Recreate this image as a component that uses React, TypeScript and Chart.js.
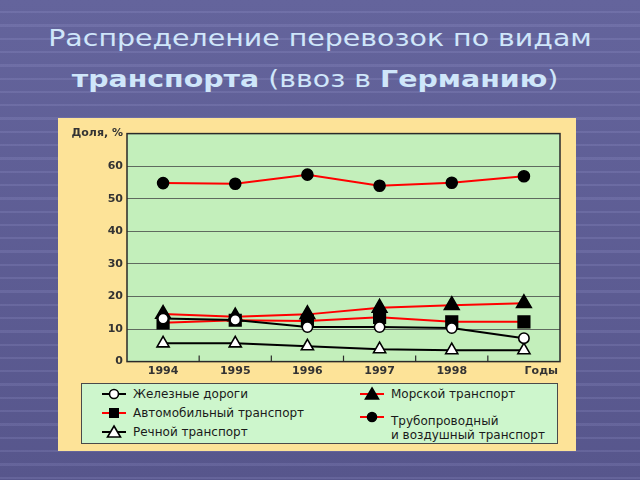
import React, { useEffect, useRef } from 'react';
import { Chart, registerables } from 'chart.js';

Chart.register(...registerables);

// ---- data ----
const years = ['1994', '1995', '1996', '1997', '1998', ''];
const xAxisName = 'Годы';
const yAxisName = 'Доля, %';
const yTickValues = [0, 10, 20, 30, 40, 50, 60, 70];

const railwayLabel = 'Железные дороги';
const roadLabel = 'Автомобильный транспорт';
const riverLabel = 'Речной транспорт';
const seaLabel = 'Морской транспорт';
const pipelineLabel = ['Трубопроводный', 'и воздушный транспорт'];

const railway = [13.2, 12.8, 10.6, 10.6, 10.3, 7.2];
const road = [11.9, 12.7, 12.5, 13.6, 12.2, 12.2];
const river = [5.6, 5.6, 4.7, 3.8, 3.5, 3.5];
const sea = [14.6, 13.8, 14.5, 16.5, 17.3, 17.9];
const pipeline = [54.8, 54.6, 57.4, 54.0, 54.9, 56.9];

const TICK_FONT = { family: '"DejaVu Sans"', size: 11, weight: 'bold' as const };

const framePlugin = {
  id: 'frame',
  beforeDraw(chart: any) {
    const { ctx, chartArea: a } = chart;
    ctx.save();
    ctx.fillStyle = '#c3efbb';
    ctx.fillRect(a.left, a.top, a.right - a.left, a.bottom - a.top);
    ctx.restore();
  },
  beforeDatasetsDraw(chart: any) {
    const { ctx, chartArea: a } = chart;
    const xs = chart.scales.x;
    ctx.save();
    ctx.strokeStyle = '#2a2a2a';
    ctx.lineWidth = 1.5;
    ctx.strokeRect(a.left, a.top, a.right - a.left, a.bottom - a.top);
    // small inner tick marks between categories
    ctx.lineWidth = 1.2;
    for (let i = 0; i < years.length - 1; i++) {
      const x = (xs.getPixelForValue(i) + xs.getPixelForValue(i + 1)) / 2;
      ctx.beginPath();
      ctx.moveTo(x, a.bottom);
      ctx.lineTo(x, a.bottom - 6);
      ctx.stroke();
    }
    ctx.restore();
  },
  afterDraw(chart: any) {
    const { ctx, chartArea: a } = chart;
    ctx.save();
    ctx.font = 'bold 11px "DejaVu Sans"';
    ctx.fillStyle = '#333';
    ctx.textAlign = 'right';
    ctx.textBaseline = 'middle';
    ctx.fillText(xAxisName, a.right - 2, a.bottom + 10);
    ctx.restore();
  },
};

function LegendIcon({ color, shape, fill }: { color: string; shape: string; fill: string }) {
  return (
    <svg width="26" height="16" style={{ display: 'block' }}>
      <line x1="1" y1="8" x2="25" y2="8" stroke={color} strokeWidth="2" />
      {shape === 'circle' && <circle cx="13" cy="8" r="4.5" fill={fill} stroke="#000" strokeWidth="1.6" />}
      {shape === 'square' && <rect x="8.5" y="3.5" width="9" height="9" fill={fill} stroke="#000" strokeWidth="1" />}
      {shape === 'triangle' && <polygon points="13,2 19.5,13 6.5,13" fill={fill} stroke="#000" strokeWidth="1.6" />}
    </svg>
  );
}

export default function App() {
  const canvasRef = useRef<HTMLCanvasElement | null>(null);

  useEffect(() => {
    if (!canvasRef.current) return;
    const mk = (label: string, data: number[], lineColor: string, style: string, fill: string, radius: number) => ({
      label,
      data,
      borderColor: lineColor,
      borderWidth: 2,
      pointStyle: style,
      pointRadius: radius,
      pointBackgroundColor: fill,
      pointBorderColor: '#000',
      pointBorderWidth: 1.6,
      tension: 0,
      fill: false,
    });
    const chart = new Chart(canvasRef.current, {
      type: 'line',
      data: {
        labels: years,
        datasets: [
          mk(railwayLabel, railway, '#000000', 'circle', '#ffffff', 5.2),
          mk(riverLabel, river, '#000000', 'triangle', '#ffffff', 7),
          mk(roadLabel, road, '#ff0000', 'rect', '#000000', 8.2),
          mk(seaLabel, sea, '#ff0000', 'triangle', '#000000', 8.5),
          mk(pipelineLabel.join(' '), pipeline, '#ff0000', 'circle', '#000000', 5.5),
        ] as any,
      },
      options: {
        animation: false,
        responsive: false,
        layout: { padding: { top: 15.6, right: 16, left: 0, bottom: 0 } },
        plugins: { legend: { display: false }, tooltip: { enabled: false }, title: { display: false } },
        scales: {
          x: {
            offset: true,
            grid: { display: false, drawTicks: false },
            border: { display: false },
            ticks: { font: TICK_FONT, color: '#333', padding: 3, maxRotation: 0, autoSkip: false },
            afterFit: (s: any) => {
              s.height = 89.4;
            },
          },
          y: {
            min: 0,
            max: 70,
            afterBuildTicks: (s: any) => {
              s.ticks = yTickValues.map((v) => ({ value: v }));
            },
            grid: { color: '#5f6a5f', lineWidth: 1, drawTicks: false },
            border: { display: false },
            ticks: {
              font: TICK_FONT,
              color: '#333',
              padding: 4,
              callback: (v: any) => (v === 70 ? yAxisName : String(v)),
            },
            afterFit: (s: any) => {
              s.width = 69;
            },
          },
        },
      },
      plugins: [framePlugin],
    });
    return () => chart.destroy();
  }, []);

  const legendText: React.CSSProperties = {
    position: 'absolute',
    font: '12px "DejaVu Sans"',
    color: '#1a1a1a',
    whiteSpace: 'nowrap',
    lineHeight: '14px',
  };
  const item = (left: number, top: number, color: string, shape: string, fill: string, text: React.ReactNode, textTop?: number) => (
    <>
      <div style={{ position: 'absolute', left: left, top: top - 8 }}>
        <LegendIcon color={color} shape={shape} fill={fill} />
      </div>
      <div style={{ ...legendText, left: left + 32, top: (textTop ?? top) - 7 }}>{text}</div>
    </>
  );

  return (
    <div
      style={{
        position: 'absolute',
        left: 0,
        top: 0,
        width: 640,
        height: 480,
        overflow: 'hidden',
        backgroundColor: '#5a5a8e',
        backgroundImage:
          'repeating-linear-gradient(to bottom, rgba(255,255,255,0) 0px, rgba(255,255,255,0) 11px, rgba(200,200,255,0.12) 11px, rgba(200,200,255,0.12) 13.3px), linear-gradient(#64649c, #57568c)',
      }}
    >
      <div
        style={{
          position: 'absolute',
          left: 0,
          top: 18,
          width: 640,
          textAlign: 'center',
          font: '23px "DejaVu Sans"',
          lineHeight: '41px',
          color: '#cfe6fa',
          transform: 'scaleX(1.235)',
          transformOrigin: '320px 0',
        }}
      >
        <div>Распределение перевозок по видам</div>
        <div style={{ marginLeft: -8 }}>
          <b>транспорта</b> (ввоз в <b>Германию</b>)
        </div>
      </div>

      <div style={{ position: 'absolute', left: 58, top: 118, width: 518, height: 333, background: '#fde398' }}>
        <canvas ref={canvasRef} width={518} height={333} style={{ display: 'block' }} />
      </div>

      <div
        style={{
          position: 'absolute',
          left: 81,
          top: 383,
          width: 475,
          height: 59,
          background: '#cdf6cc',
          border: '1.5px solid #4a4a4a',
        }}
      />
      {item(101, 394, '#000', 'circle', '#fff', railwayLabel)}
      {item(101, 413, '#ff0000', 'square', '#000', roadLabel)}
      {item(101, 432, '#000', 'triangle', '#fff', riverLabel)}
      {item(359, 394, '#ff0000', 'triangle', '#000', seaLabel)}
      {item(
        359,
        417,
        '#ff0000',
        'circle',
        '#000',
        <>
          {pipelineLabel[0]}
          <br />
          {pipelineLabel[1]}
        </>,
        417 + 4
      )}
    </div>
  );
}
